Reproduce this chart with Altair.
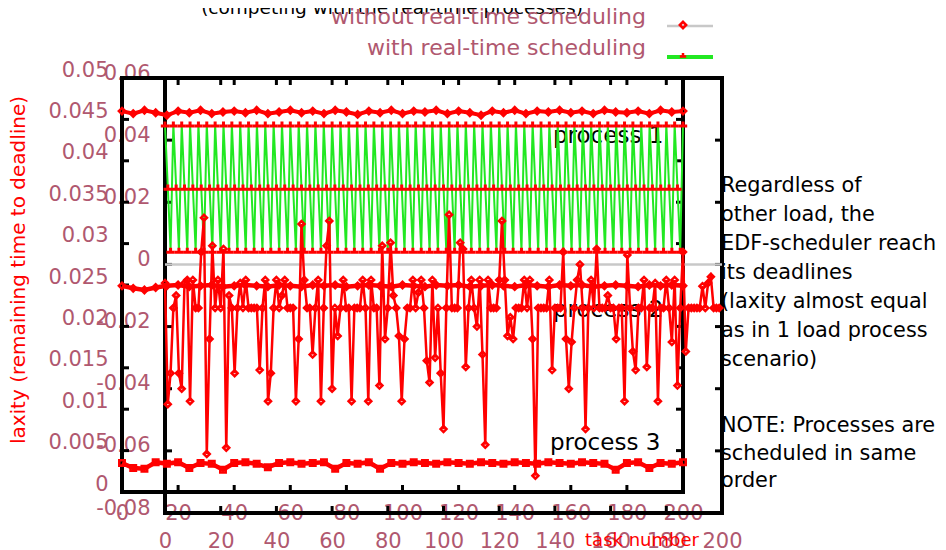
import altair as alt
import pandas as pd

# ---------------- data ----------------
# frame A (outer-left axes): task 0..200, laxity 0..0.05
task_a = list(range(0, 201, 4))
p1_without = [0.0460, 0.0457, 0.0461, 0.0458, 0.0455, 0.0460, 0.0458, 0.0461, 0.0457, 0.0459,
              0.0460, 0.0458, 0.0461, 0.0457, 0.0459, 0.0461, 0.0458, 0.0460, 0.0457, 0.0461,
              0.0459, 0.0456, 0.0460, 0.0458, 0.0461, 0.0457, 0.0460, 0.0459, 0.0461, 0.0457,
              0.0460, 0.0458, 0.0455, 0.0460, 0.0458, 0.0461, 0.0457, 0.0460, 0.0459, 0.0461,
              0.0458, 0.0460, 0.0457, 0.0461, 0.0459, 0.0458, 0.0460, 0.0457, 0.0461, 0.0459,
              0.0460]
p2_without = [0.0249, 0.0246, 0.0244, 0.0247, 0.0249, 0.0250, 0.0248, 0.0249, 0.0250, 0.0248,
              0.0249, 0.0250, 0.0249, 0.0248, 0.0250, 0.0249, 0.0248, 0.0250, 0.0249, 0.0250,
              0.0248, 0.0249, 0.0250, 0.0249, 0.0248, 0.0250, 0.0249, 0.0248, 0.0250, 0.0249,
              0.0250, 0.0248, 0.0249, 0.0250, 0.0249, 0.0248, 0.0250, 0.0249, 0.0248, 0.0250,
              0.0249, 0.0250, 0.0248, 0.0249, 0.0250, 0.0249, 0.0248, 0.0250, 0.0249, 0.0250,
              0.0249]
p3_without = [0.0035, 0.0029, 0.0028, 0.0036, 0.0034, 0.0036, 0.0029, 0.0035, 0.0034, 0.0027,
              0.0035, 0.0036, 0.0034, 0.0030, 0.0035, 0.0036, 0.0034, 0.0035, 0.0036, 0.0028,
              0.0035, 0.0034, 0.0036, 0.0028, 0.0035, 0.0034, 0.0036, 0.0035, 0.0034, 0.0036,
              0.0035, 0.0034, 0.0036, 0.0035, 0.0034, 0.0036, 0.0035, 0.0034, 0.0036, 0.0035,
              0.0034, 0.0036, 0.0035, 0.0034, 0.0027, 0.0035, 0.0036, 0.0029, 0.0035, 0.0034,
              0.0036]

# frame B (inner axes): task 0..200, laxity -0.08..0.06
task_b = list(range(0, 200))
p2_noisy = [-0.006, -0.045, -0.035, -0.014, -0.010, -0.035, -0.040, -0.006, -0.005, -0.044,
            -0.005, -0.014, -0.014, 0.004, 0.015, -0.061, -0.024, 0.006, -0.014, -0.005,
            -0.014, 0.005, -0.059, -0.010, -0.014, -0.035, -0.014, -0.006, -0.014, -0.005,
            -0.014, -0.014, -0.014, -0.014, -0.034, -0.014, -0.005, -0.044, -0.035, -0.014,
            -0.005, -0.014, -0.010, -0.005, -0.014, -0.014, -0.014, -0.044, -0.024, 0.013,
            -0.005, -0.014, -0.014, -0.029, -0.014, -0.005, -0.044, -0.014, 0.006, 0.014,
            -0.040, -0.014, -0.023, -0.014, -0.005, -0.014, -0.014, -0.044, -0.014, -0.014,
            -0.014, -0.005, -0.014, -0.044, -0.005, -0.014, -0.014, -0.039, 0.006, -0.024,
            -0.014, 0.007, -0.010, -0.014, -0.023, -0.044, -0.024, -0.014, -0.014, -0.005,
            -0.014, -0.009, -0.005, -0.014, -0.031, -0.038, -0.005, -0.030, -0.014, -0.035,
            -0.053, -0.014, 0.016, -0.014, -0.014, -0.014, 0.007, 0.005, -0.033, -0.014,
            -0.005, -0.014, -0.020, -0.005, -0.029, -0.058, -0.005, -0.014, -0.014, -0.014,
            -0.005, 0.014, -0.005, -0.023, -0.017, -0.024, -0.014, -0.014, -0.014, -0.005,
            -0.014, -0.005, -0.024, -0.068, -0.014, -0.014, -0.014, -0.014, -0.005, -0.034,
            -0.014, -0.014, -0.014, 0.004, -0.024, -0.040, -0.025, -0.014, -0.005, 0.000,
            -0.014, -0.053, -0.014, -0.005, -0.014, 0.005, -0.014, -0.014, -0.014, -0.010,
            -0.014, -0.014, -0.024, -0.014, -0.014, -0.044, 0.003, -0.014, -0.028, -0.034,
            -0.014, -0.014, -0.005, -0.033, -0.014, -0.014, -0.006, -0.044, -0.014, -0.014,
            -0.005, -0.014, -0.025, -0.005, -0.039, -0.014, 0.004, -0.028, -0.014, -0.014,
            -0.014, -0.014, -0.014, -0.007, -0.014, -0.006, -0.004, -0.014, -0.014, -0.014]
green_tasks = list(range(0, 187))
green_levels = [0.0452, 0.0249, 0.0046]          # process 1, 2, 3 with real-time scheduling
green_vals = green_levels * 62 + [0.0452]
zero_tasks = [0, 200]
zero_vals = [0.0, 0.0]

# axis tick values / labels
xa_labels = [0, 20, 40, 60, 80, 100, 120, 140, 160, 180, 200]
xa_inner = [20, 40, 60, 80, 100, 120, 140, 160, 180]
ya_labels = [0, 0.005, 0.01, 0.015, 0.02, 0.025, 0.03, 0.035, 0.04, 0.045, 0.05]
ya_inner = [0.005, 0.01, 0.015, 0.02, 0.025, 0.03, 0.035, 0.04, 0.045]
yb_labels = [-0.08, -0.06, -0.04, -0.02, 0, 0.02, 0.04, 0.06]
yb_inner = [-0.06, -0.04, -0.02, 0, 0.02, 0.04]

title_text = "(competing with the real-time processes)"
legend_labels = ["without real-time scheduling", "with real-time scheduling"]
note1 = ["Regardless of", "other load, the", "EDF-scheduler reach", "its  deadlines",
         "(laxity almost equal", "as in 1 load process", "scenario)"]
note2 = ["NOTE: Processes are", "scheduled in same", "order"]
proc_labels = ["process 1", "process 2", "process 3"]

# ---------------- styles ----------------
FONT = "DejaVu Sans"
MAUVE = "#b0586f"
RED = "#ff0000"
GREEN = "#22e822"
GRAY = "#c8c8c8"

XA = alt.Scale(domain=[0, 200], range=[0, 561], nice=False, zero=False)
YA = alt.Scale(domain=[0, 0.05], range=[414, 0], nice=False, zero=False)
XB = alt.Scale(domain=[0, 200], range=[43, 600], nice=False, zero=False)
YB = alt.Scale(domain=[-0.08, 0.06], range=[435, 0], nice=False, zero=False)

lab = dict(labelFont=FONT, labelFontSize=21, labelColor=MAUVE, ticks=False, domain=False,
           grid=False, title=None, tickSize=0)

# ---------------- frames with axis labels ----------------
frameA = pd.DataFrame({"x": [0, 0, 200, 0], "y": [0, 0, 0, 0.05],
                       "x2": [0, 200, 200, 200], "y2": [0.05, 0, 0.05, 0.05]})
frameB = pd.DataFrame({"x": [0, 0, 200, 0], "y": [-0.08, -0.08, -0.08, 0.06],
                       "x2": [0, 200, 200, 200], "y2": [0.06, -0.08, 0.06, 0.06]})

frame_a = alt.Chart(frameA).mark_rule(color="black", strokeWidth=4, strokeCap="square").encode(
    x=alt.X("x:Q", scale=XA, axis=alt.Axis(orient="bottom", offset=-21, values=xa_labels,
                                           labelPadding=10, labelFlush=False, format="d", **lab)),
    y=alt.Y("y:Q", scale=YA, axis=alt.Axis(orient="left", values=ya_labels, labelPadding=14,
                                           labelOffset=-8, format="~g", **lab)),
    x2="x2:Q", y2="y2:Q")

frame_b = alt.Chart(frameB).mark_rule(color="black", strokeWidth=4, strokeCap="square").encode(
    x=alt.X("x:Q", scale=XB, axis=alt.Axis(orient="bottom", offset=0, values=xa_labels,
                                           labelPadding=17, labelFlush=False, format="d", **lab)),
    y=alt.Y("y:Q", scale=YB, axis=alt.Axis(orient="left", offset=-43, values=yb_labels,
                                           labelPadding=15, labelOffset=-5,
                                           labelExpr="datum.value < 0 ? '-' + format(-datum.value, '~g') : format(datum.value, '~g')",
                                           **lab)),
    x2="x2:Q", y2="y2:Q")

# ---------------- inward tick marks ----------------
def vticks(vals, scale, y0, y1):
    return alt.Chart(pd.DataFrame({"v": vals})).mark_rule(color="black", strokeWidth=3).encode(
        x=alt.X("v:Q", scale=scale, axis=None), y=alt.value(y0), y2=alt.value(y1))

def hticks(vals, scale, x0, x1):
    return alt.Chart(pd.DataFrame({"v": vals})).mark_rule(color="black", strokeWidth=3).encode(
        y=alt.Y("v:Q", scale=scale, axis=None), x=alt.value(x0), x2=alt.value(x1))

ticks = [
    vticks(xa_inner, XA, 407, 414), vticks(xa_inner, XA, 0, 7),
    hticks(ya_inner, YA, 0, 7), hticks(ya_inner, YA, 554, 561),
    vticks(xa_inner, XB, 428, 435), vticks(xa_inner, XB, 0, 7),
    hticks(yb_inner, YB, 43, 50), hticks(yb_inner, YB, 593, 600),
]

# ---------------- texts ----------------
def txt(content, x, y, size, color, align="left", baseline="alphabetic", angle=0, lh=None):
    kw = dict(font=FONT, fontSize=size, color=color, align=align, baseline=baseline)
    if angle:
        kw["angle"] = angle
    if lh:
        kw["lineHeight"] = lh
    return alt.Chart(pd.DataFrame({"a": [0]})).mark_text(**kw).encode(
        x=alt.value(x), y=alt.value(y), text=alt.value(content))

texts = [
    txt(title_text, 270, -64, 18.5, "black", align="center"),
    txt(legend_labels[0], 524, -54, 22, MAUVE, align="right"),
    txt(legend_labels[1], 524, -23, 22, MAUVE, align="right"),
    txt("laxity (remaining time to deadline)", -103, 192, 20, RED, align="center",
        baseline="middle", angle=270),
    txt("task number", 520, 468, 18, RED, align="center"),
    txt(note1, 599, 114, 20.8, "black", lh=29),
    txt(note2, 599, 354, 20.8, "black", lh=27.5),
    txt(proc_labels[0], 431, 65, 23, "black"),
    txt(proc_labels[1], 431, 239, 23, "black"),
    txt(proc_labels[2], 428, 372, 23, "black"),
]

# ---------------- data series ----------------
TEE = "M-1,0.5H1M0,0.5V-0.6"

zero_df = pd.DataFrame({"t": zero_tasks, "v": zero_vals})
zero_line = alt.Chart(zero_df).mark_line(color=GRAY, strokeWidth=2.5).encode(
    x=alt.X("t:Q", scale=XB, axis=None), y=alt.Y("v:Q", scale=YB, axis=None))

green_df = pd.DataFrame({"t": green_tasks, "v": green_vals})
green_line = alt.Chart(green_df).mark_line(color=GREEN, strokeWidth=2).encode(
    x=alt.X("t:Q", scale=XB, axis=None), y=alt.Y("v:Q", scale=YB, axis=None))
green_pts = alt.Chart(green_df).mark_point(shape=TEE, size=70, color=RED, filled=False,
                                           strokeWidth=3, opacity=1).encode(
    x=alt.X("t:Q", scale=XB, axis=None), y=alt.Y("v:Q", scale=YB, axis=None))

def red_series(tasks, vals, xs, ys, shape, width, size):
    df = pd.DataFrame({"t": tasks, "v": vals})
    line = alt.Chart(df).mark_line(color=RED, strokeWidth=width).encode(
        x=alt.X("t:Q", scale=xs, axis=None), y=alt.Y("v:Q", scale=ys, axis=None))
    pts = alt.Chart(df).mark_point(shape=shape, size=size, color=RED, filled=False,
                                   strokeWidth=2.5, opacity=1).encode(
        x=alt.X("t:Q", scale=xs, axis=None), y=alt.Y("v:Q", scale=ys, axis=None))
    return [line, pts]

series = []
series += red_series(task_a, p1_without, XA, YA, "diamond", 4, 40)
series += red_series(task_a, p2_without, XA, YA, "diamond", 4.5, 40)
series += red_series(task_a, p3_without, XA, YA, "square", 4.5, 30)
series += red_series(task_b, p2_noisy, XB, YB, "diamond", 2.5, 36)

# ---------------- legend samples ----------------
def seg(x0, x1, y, color, w):
    return alt.Chart(pd.DataFrame({"a": [0]})).mark_rule(color=color, strokeWidth=w).encode(
        x=alt.value(x0), x2=alt.value(x1), y=alt.value(y))

def sym(x, y, shape):
    return alt.Chart(pd.DataFrame({"a": [0]})).mark_point(shape=shape, size=40, color=RED,
                                                          filled=False, strokeWidth=2.5, opacity=1).encode(
        x=alt.value(x), y=alt.value(y))

legend = [seg(545, 591, -52, GRAY, 2.5), sym(561, -53, "diamond"),
          seg(545, 591, -21, GREEN, 4), sym(561, -23, TEE)]

chart = alt.layer(frame_a, frame_b, *ticks, *texts, zero_line, green_line, green_pts,
                  *series, *legend).resolve_scale(
    x="independent", y="independent").properties(
    width=600, height=435,
    autosize=alt.AutoSizeParams(type="none"),
    padding={"left": 114, "top": 70, "right": 216, "bottom": 37},
).configure_view(strokeWidth=0)

chart.save("out.html", embed_options={"renderer": "svg", "actions": False})
